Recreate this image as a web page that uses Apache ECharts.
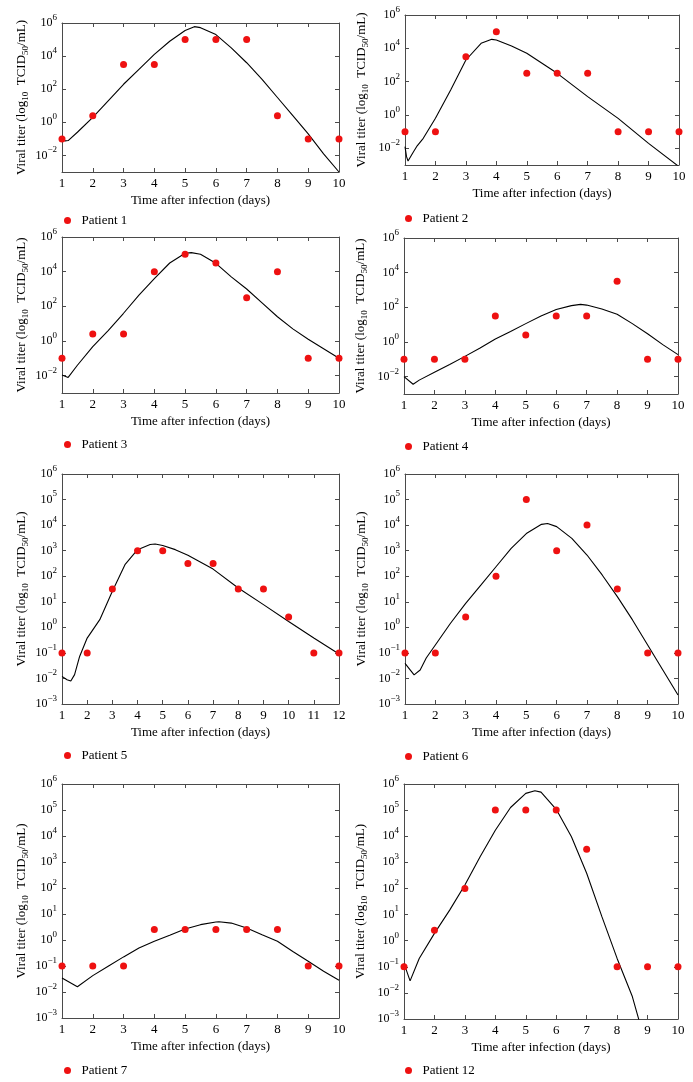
<!DOCTYPE html>
<html>
<head>
<meta charset="utf-8">
<script src="https://cdn.jsdelivr.net/npm/echarts@6/dist/echarts.min.js"></script>
<style>html,body{margin:0;padding:0;background:#fff}#c{width:693px;height:1082px}</style>
</head>
<body>
<div id="c"></div>
<script>
const patientNames = ['Patient 1','Patient 2','Patient 3','Patient 4','Patient 5','Patient 6','Patient 7','Patient 12'];
const days10 = [1,2,3,4,5,6,7,8,9,10];
const days12 = [1,2,3,4,5,6,7,8,9,10,11,12];

const obs1 = [-1,0.4,3.5,3.5,5,5,5,0.4,-1,-1];
const obs2 = [-1,-1,3.5,5,2.5,2.5,2.5,-1,-1,-1];
const obs3 = [-1,0.4,0.4,4,5,4.5,2.5,4,-1,-1];
const obs4 = [-1,-1,-1,1.5,0.4,1.5,1.5,3.5,-1,-1];
const obs5 = [-1,-1,1.5,3,3,2.5,2.5,1.5,1.5,0.4,-1,-1];
const obs6 = [-1,-1,0.4,2,5,3,4,1.5,-1,-1];
const obs7 = [-1,-1,-1,0.4,0.4,0.4,0.4,0.4,-1,-1];
const obs8 = [-1,0.4,2,5,5,5,3.5,-1,-1,-1];

// model curves: times and log10 titers
const fitT1 = [1,1.1,1.2,1.5,2,2.5,3,3.5,4,4.5,5,5.3,5.5,6,6.5,7,7.5,8,8.5,9,9.5,10];
const fitL1 = [-1.0,-1.12,-1.1,-0.6,0.3,1.3,2.3,3.2,4.1,4.9,5.55,5.78,5.72,5.3,4.5,3.6,2.6,1.5,0.4,-0.7,-1.9,-3.0];
const fitT2 = [1,1.05,1.1,1.15,1.25,1.4,1.6,2,2.5,3,3.5,3.85,4,4.5,5,6,7,8,9,10];
const fitL2 = [-1.9,-2.5,-2.76,-2.7,-2.3,-1.85,-1.4,-0.2,1.5,3.3,4.3,4.54,4.5,4.14,3.7,2.5,1.1,-0.2,-1.7,-3.1];
const fitT3 = [1,1.2,1.5,2,2.5,3,3.5,4,4.5,5,5.2,5.5,6,6.5,7,7.5,8,8.5,9,9.5,10];
const fitL3 = [-1.96,-2.1,-1.4,-0.33,0.6,1.6,2.65,3.6,4.5,5.06,5.1,5.0,4.48,3.7,3.0,2.2,1.4,0.7,0.1,-0.45,-1.0];
const fitT4 = [1,1.3,1.5,2,2.5,3,3.5,4,4.5,5,5.5,6,6.5,6.8,7,7.5,8,8.5,9,9.5,10];
const fitL4 = [-2.0,-2.44,-2.2,-1.75,-1.3,-0.83,-0.35,0.17,0.6,1.06,1.5,1.88,2.1,2.17,2.13,1.9,1.6,1.06,0.48,-0.15,-0.73];
const fitT5 = [1,1.2,1.35,1.5,1.7,2,2.5,3,3.5,4,4.5,4.7,5,5.5,6,7,8,9,10,11,12];
const fitL5 = [-1.92,-2.05,-2.1,-1.85,-1.14,-0.42,0.3,1.41,2.45,3.04,3.24,3.26,3.2,3.04,2.82,2.28,1.54,0.89,0.23,-0.42,-1.04];
const fitT6 = [1,1.3,1.5,1.7,2,2.5,3,3.5,4,4.5,5,5.5,5.7,6,6.5,7,7.5,8,8.5,9,9.5,10];
const fitL6 = [-1.41,-1.86,-1.67,-1.2,-0.69,0.16,0.94,1.65,2.37,3.09,3.67,4.03,4.06,3.94,3.48,2.83,2.05,1.2,0.29,-0.69,-1.67,-2.65];
const fitT7 = [1,1.5,2,2.5,3,3.5,4,4.5,5,5.5,6,6.1,6.5,7,7.5,8,8.5,9,9.5,10];
const fitL7 = [-1.46,-1.8,-1.37,-1.01,-0.65,-0.31,-0.05,0.18,0.42,0.59,0.69,0.7,0.65,0.46,0.2,-0.05,-0.44,-0.82,-1.2,-1.55];
const fitT8 = [1,1.2,1.5,2,2.5,3,3.5,4,4.5,5,5.3,5.5,6,6.5,7,7.5,8,8.5,8.7,8.8];
const fitL8 = [-0.87,-1.54,-0.68,0.28,1.17,2.13,3.21,4.23,5.1,5.64,5.74,5.69,5.03,3.98,2.58,0.92,-0.68,-2.14,-2.97,-3.4];

// tick values
const yTicksEven = [1e-2, 1, 1e2, 1e4, 1e6];
const yTicksAll = [1e-3, 1e-2, 1e-1, 1, 1e1, 1e2, 1e3, 1e4, 1e5, 1e6];
const yMin = 1e-3, yMax = 1e6;

// ---------- LAYOUT ----------
const panels = [
  {days: days10, obs: obs1, fitT: fitT1, fitL: fitL1, xMax: 10, ticks: yTicksEven, grid: {left: 62, top: 23, width: 277, height: 149}, legend: {left: 64, cy: 220}, yGap: 32},
  {days: days10, obs: obs2, fitT: fitT2, fitL: fitL2, xMax: 10, ticks: yTicksEven, grid: {left: 405, top: 15, width: 274, height: 150}, legend: {left: 405, cy: 218}, yGap: 35},
  {days: days10, obs: obs3, fitT: fitT3, fitL: fitL3, xMax: 10, ticks: yTicksEven, grid: {left: 62, top: 237, width: 277, height: 156}, legend: {left: 64, cy: 444}, yGap: 32},
  {days: days10, obs: obs4, fitT: fitT4, fitL: fitL4, xMax: 10, ticks: yTicksEven, grid: {left: 404, top: 238, width: 274, height: 156}, legend: {left: 405, cy: 446}, yGap: 35},
  {days: days12, obs: obs5, fitT: fitT5, fitL: fitL5, xMax: 12, ticks: yTicksAll, grid: {left: 62, top: 474, width: 277, height: 230}, legend: {left: 64, cy: 755}, yGap: 32},
  {days: days10, obs: obs6, fitT: fitT6, fitL: fitL6, xMax: 10, ticks: yTicksAll, grid: {left: 405, top: 474, width: 273, height: 230}, legend: {left: 405, cy: 756}, yGap: 35},
  {days: days10, obs: obs7, fitT: fitT7, fitL: fitL7, xMax: 10, ticks: yTicksAll, grid: {left: 62, top: 784, width: 277, height: 234}, legend: {left: 64, cy: 1070}, yGap: 32},
  {days: days10, obs: obs8, fitT: fitT8, fitL: fitL8, xMax: 10, ticks: yTicksAll, grid: {left: 404, top: 784, width: 274, height: 235}, legend: {left: 405, cy: 1070}, yGap: 35}
];

const FONT = "'Liberation Serif', 'Times New Roman', serif";
const BOX = '#4a4a4a';
const RED = '#ee1111';
const pow10 = v => Math.pow(10, v);
const supTxt = n => (n < 0 ? '\u2212' + (-n) : '' + n);
const yFmt = v => '{b|10}{s|' + supTxt(Math.round(Math.log10(v))) + '}';

const grids = [], xAxes = [], yAxes = [], series = [], legends = [];
panels.forEach((p, i) => {
  grids.push(Object.assign({containLabel: false, show: false}, p.grid));
  const xCommon = {
    type: 'value', gridIndex: i, min: 1, max: p.xMax, interval: 1,
    splitLine: {show: false},
    axisLine: {show: true, onZero: false, lineStyle: {color: BOX, width: 1}},
    axisTick: {show: true, inside: true, length: 4, lineStyle: {color: BOX}}
  };
  xAxes.push(Object.assign({}, xCommon, {
    position: 'bottom',
    name: 'Time after infection (days)', nameLocation: 'middle', nameGap: 22,
    nameTextStyle: {fontFamily: FONT, fontSize: 13, color: '#000'},
    axisLabel: {show: true, margin: 5, fontFamily: FONT, fontSize: 13, color: '#000'}
  }));
  xAxes.push(Object.assign({}, xCommon, {position: 'top', axisLabel: {show: false}}));

  const yCommon = {
    type: 'log', logBase: 10, gridIndex: i, min: yMin, max: yMax,
    splitLine: {show: false},
    axisLine: {show: true, onZero: false, lineStyle: {color: BOX, width: 1}},
    axisTick: {show: true, inside: true, length: 4, lineStyle: {color: BOX}, customValues: p.ticks},
    minorTick: {show: false}
  };
  yAxes.push(Object.assign({}, yCommon, {
    position: 'left',
    name: '{n|Viral titer (log}{sub|10}{n|  TCID}{sub|50}{n|/mL)}',
    nameLocation: 'middle', nameGap: p.yGap, nameRotate: 90,
    nameTextStyle: {
      fontFamily: FONT, fontSize: 13, color: '#000',
      rich: {
        n: {fontFamily: FONT, fontSize: 13, color: '#000', lineHeight: 16, verticalAlign: 'middle'},
        sub: {fontFamily: FONT, fontSize: 9, color: '#000', lineHeight: 9, verticalAlign: 'bottom'}
      }
    },
    axisLabel: {
      show: true, margin: 5, customValues: p.ticks, formatter: yFmt,
      rich: {
        b: {fontFamily: FONT, fontSize: 12, color: '#000', lineHeight: 20, verticalAlign: 'middle'},
        s: {fontFamily: FONT, fontSize: 9, color: '#000', lineHeight: 10, verticalAlign: 'top'}
      }
    }
  }));
  yAxes.push(Object.assign({}, yCommon, {position: 'right', axisLabel: {show: false}}));

  series.push({
    type: 'line', name: 'fit' + i, xAxisIndex: 2 * i, yAxisIndex: 2 * i,
    data: p.fitT.map((t, k) => [t, pow10(p.fitL[k])]),
    symbol: 'none', showSymbol: false, smooth: false, clip: true, silent: true, z: 2,
    lineStyle: {color: '#000', width: 1.1}
  });
  series.push({
    type: 'scatter', name: patientNames[i], xAxisIndex: 2 * i, yAxisIndex: 2 * i,
    data: p.days.map((d, k) => [d, pow10(p.obs[k])]),
    symbol: 'circle', symbolSize: 7, clip: false, z: 3,
    itemStyle: {color: RED, opacity: 1}
  });
  legends.push({
    data: [{name: patientNames[i], icon: 'circle', itemStyle: {color: RED, opacity: 1}}],
    left: p.legend.left, top: p.legend.cy - 6, padding: 0,
    itemWidth: 18, itemHeight: 7, selectedMode: false,
    textStyle: {fontFamily: FONT, fontSize: 13, color: '#000'}
  });
});

const chart = echarts.init(document.getElementById('c'), null, {renderer: 'canvas'});
chart.setOption({
  animation: false,
  backgroundColor: '#fff',
  grid: grids, xAxis: xAxes, yAxis: yAxes, series: series, legend: legends
});
</script>
</body>
</html>
